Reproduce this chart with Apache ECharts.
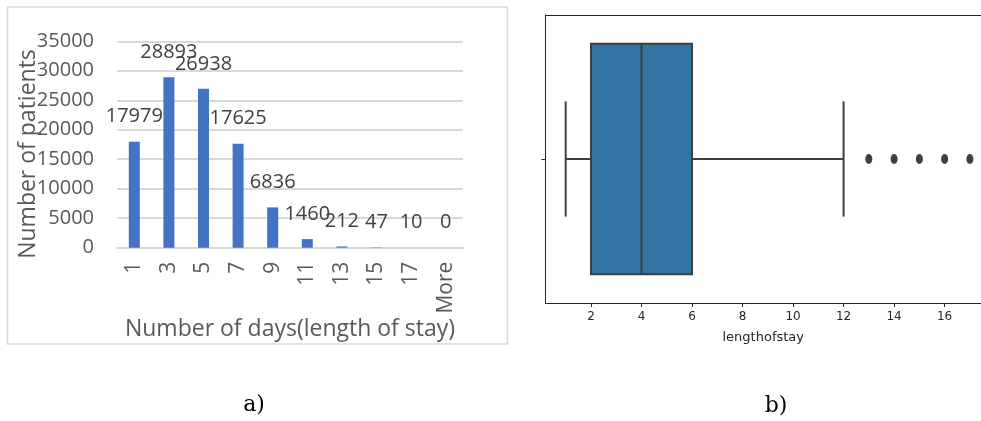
<!DOCTYPE html>
<html>
<head>
<meta charset="utf-8">
<script src="https://cdn.jsdelivr.net/npm/echarts@6/dist/echarts.min.js"></script>
<style>
html,body{margin:0;padding:0;background:#fff;}
#chart{width:981px;height:421px;}
</style>
</head>
<body>
<div id="chart"></div>
<script>
// ---- data (panel a: histogram) ----
const losCategories = ['1', '3', '5', '7', '9', '11', '13', '15', '17', 'More'];
const patientCounts = [17979, 28893, 26938, 17625, 6836, 1460, 212, 47, 10, 0];
const countAxisMax = 35000;
const countAxisStep = 5000;

// ---- data (panel b: boxplot of length of stay) ----
const boxStats = [1, 2, 4, 6, 12];          // min, Q1, median, Q3, max (whisker ends)
const outlierValues = [13, 14, 15, 16, 17];
const stayTicks = [2, 4, 6, 8, 10, 12, 14, 16];
const stayAxisMin = 0.2;
const stayAxisMax = 17.44;

const chart = echarts.init(document.getElementById('chart'), null, {renderer: 'canvas'});

const excelFont = 'Open Sans';
const axisGray = '#595959';
const labelGray = '#404040';
const mplDark = '#262626';
const lineGray = '#3f3f3f';

const option = {
  animation: false,
  grid: [
    {left: 117, top: 41.3, width: 346, height: 206.4, containLabel: false},
    {left: 545.5, top: 15, right: 0, height: 288, show: false}
  ],
  xAxis: [
    {
      type: 'category', gridIndex: 0, data: losCategories,
      axisLine: {show: true, lineStyle: {color: '#d9d9d9', width: 2}},
      axisTick: {show: false},
      axisLabel: {rotate: 90, margin: 14, fontFamily: excelFont, fontSize: 21, color: axisGray},
      name: 'Number of days(length of stay)', nameLocation: 'middle', nameGap: 66,
      nameTextStyle: {fontFamily: excelFont, fontSize: 23, color: axisGray}
    },
    {
      type: 'value', gridIndex: 1, min: stayAxisMin, max: stayAxisMax,
      axisLine: {show: true, onZero: false, lineStyle: {color: mplDark, width: 1}},
      axisTick: {show: true, length: 4, customValues: stayTicks, lineStyle: {color: mplDark}},
      axisLabel: {customValues: stayTicks, margin: 8, fontFamily: 'DejaVu Sans', fontSize: 12, color: mplDark},
      splitLine: {show: false},
      name: 'lengthofstay', nameLocation: 'middle', nameGap: 28,
      nameTextStyle: {fontFamily: 'DejaVu Sans', fontSize: 13, color: mplDark}
    },
    {
      type: 'value', gridIndex: 1, position: 'top', min: stayAxisMin, max: stayAxisMax,
      axisLine: {show: true, onZero: false, lineStyle: {color: mplDark, width: 1}},
      axisTick: {show: false}, axisLabel: {show: false}, splitLine: {show: false}
    }
  ],
  yAxis: [
    {
      type: 'value', gridIndex: 0, min: 0, max: countAxisMax, interval: countAxisStep,
      axisLine: {show: false}, axisTick: {show: false},
      axisLabel: {margin: 23, fontFamily: excelFont, fontSize: 20, color: axisGray,
                  formatter: function (v) { return String(v); }},
      splitLine: {show: true, lineStyle: {color: '#d9d9d9', width: 2}}
    },
    {
      type: 'category', gridIndex: 1, data: [''],
      axisLine: {show: true, onZero: false, lineStyle: {color: mplDark, width: 1}},
      axisTick: {show: true, alignWithLabel: true, length: 4, lineStyle: {color: mplDark}},
      axisLabel: {show: false},
      splitLine: {show: false}
    }
  ],
  series: [
    {
      type: 'bar', xAxisIndex: 0, yAxisIndex: 0, data: patientCounts,
      barWidth: 11,
      itemStyle: {color: '#4472c4'},
      label: {show: true, position: 'top', distance: 15, fontFamily: excelFont, fontSize: 20, color: labelGray}
    },
    {
      type: 'custom', xAxisIndex: 1, yAxisIndex: 1,
      data: [boxStats],
      encode: {x: [0, 1, 2, 3, 4]},
      renderItem: function (params, api) {
        const vMin = api.value(0), q1 = api.value(1), med = api.value(2), q3 = api.value(3), vMax = api.value(4);
        const band = api.size([0, 1])[1];
        const pMin = api.coord([vMin, 0]);
        const pQ1 = api.coord([q1, 0]);
        const pMed = api.coord([med, 0]);
        const pQ3 = api.coord([q3, 0]);
        const pMax = api.coord([vMax, 0]);
        const yc = pMed[1];
        const boxHalf = band * 0.4;
        const capHalf = band * 0.2;
        const ls = {stroke: lineGray, lineWidth: 2, fill: null};
        return {
          type: 'group',
          children: [
            {type: 'line', shape: {x1: pMin[0], y1: yc, x2: pQ1[0], y2: yc}, style: ls},
            {type: 'line', shape: {x1: pQ3[0], y1: yc, x2: pMax[0], y2: yc}, style: ls},
            {type: 'line', shape: {x1: pMin[0], y1: yc - capHalf, x2: pMin[0], y2: yc + capHalf}, style: ls},
            {type: 'line', shape: {x1: pMax[0], y1: yc - capHalf, x2: pMax[0], y2: yc + capHalf}, style: ls},
            {type: 'rect', shape: {x: pQ1[0], y: yc - boxHalf, width: pQ3[0] - pQ1[0], height: boxHalf * 2},
             style: {fill: '#3274a1', stroke: lineGray, lineWidth: 2}},
            {type: 'line', shape: {x1: pMed[0], y1: yc - boxHalf, x2: pMed[0], y2: yc + boxHalf}, style: ls}
          ]
        };
      }
    },
    {
      type: 'scatter', xAxisIndex: 1, yAxisIndex: 1,
      data: outlierValues.map(v => [v, 0]),
      symbol: 'circle', symbolSize: [7, 10],
      itemStyle: {color: lineGray, opacity: 1}
    }
  ],
  graphic: [
    {type: 'rect', silent: true, z: -1,
     shape: {x: 7.5, y: 7, width: 500, height: 337},
     style: {fill: null, stroke: '#d9d9d9', lineWidth: 1.5}},
    {type: 'text', x: 28, y: 154, rotation: Math.PI / 2,
     style: {text: 'Number of patients', font: '23px "Open Sans"', fill: axisGray,
             textAlign: 'center', textVerticalAlign: 'middle'}},
    {type: 'text', x: 254, y: 405,
     style: {text: 'a)', font: '22px "DejaVu Serif"', fill: '#000',
             textAlign: 'center', textVerticalAlign: 'middle'}},
    {type: 'text', x: 776, y: 406,
     style: {text: 'b)', font: '22px "DejaVu Serif"', fill: '#000',
             textAlign: 'center', textVerticalAlign: 'middle'}}
  ]
};
chart.setOption(option);
</script>
</body>
</html>
